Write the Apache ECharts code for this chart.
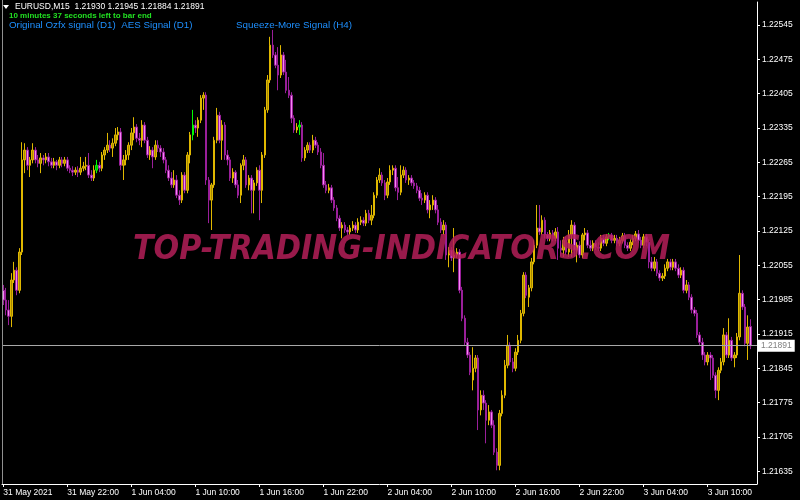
<!DOCTYPE html>
<html><head><meta charset="utf-8">
<script src="https://cdn.jsdelivr.net/npm/echarts@6/dist/echarts.min.js"></script>
<style>html,body{margin:0;padding:0;background:#000}#c{width:800px;height:500px}</style>
</head><body><div id="c"></div>
<script>
const symbolInfo = "EURUSD,M15  1.21930 1.21945 1.21884 1.21891";
const timerText = "10 minutes 37 seconds left to bar end";
const signalText1 = "Original Ozfx signal (D1)  AES Signal (D1)";
const signalText2 = "Squeeze-More Signal (H4)";
const watermarkText = "TOP-TRADING-INDICATORS.COM";
const timeTickLabels = ["31 May 2021","31 May 22:00","1 Jun 04:00","1 Jun 10:00","1 Jun 16:00","1 Jun 22:00","2 Jun 04:00","2 Jun 10:00","2 Jun 16:00","2 Jun 22:00","3 Jun 04:00","3 Jun 10:00"];
const priceTicks = [1.21635,1.21705,1.21775,1.21845,1.21915,1.21985,1.22055,1.22125,1.22195,1.22265,1.22335,1.22405,1.22475,1.22545];
const lastPrice = 1.21891;
const greenBars = [35,71,111,227];

const opens = [1.22004,1.21984,1.21964,1.21951,1.22025,1.22045,1.22004,1.22082,1.22270,1.22290,
1.22259,1.22270,1.22290,1.22270,1.22263,1.22274,1.22270,1.22276,1.22266,1.22259,
1.22266,1.22259,1.22270,1.22263,1.22270,1.22253,1.22249,1.22245,1.22249,1.22245,
1.22253,1.22257,1.22259,1.22239,1.22233,1.22249,1.22259,1.22253,1.22280,1.22290,
1.22300,1.22294,1.22304,1.22321,1.22327,1.22259,1.22270,1.22280,1.22300,1.22325,
1.22337,1.22314,1.22310,1.22341,1.22310,1.22280,1.22290,1.22276,1.22300,1.22294,
1.22286,1.22270,1.22249,1.22233,1.22219,1.22229,1.22198,1.22188,1.22239,1.22208,
1.22280,1.22321,1.22341,1.22335,1.22351,1.22396,1.22402,1.22229,1.22188,1.22219,
1.22310,1.22361,1.22310,1.22341,1.22280,1.22270,1.22233,1.22245,1.22219,1.22198,
1.22259,1.22270,1.22219,1.22233,1.22208,1.22223,1.22249,1.22208,1.22280,1.22372,
1.22433,1.22504,1.22484,1.22463,1.22443,1.22484,1.22449,1.22412,1.22402,1.22355,
1.22331,1.22337,1.22341,1.22274,1.22290,1.22300,1.22290,1.22310,1.22300,1.22286,
1.22259,1.22219,1.22208,1.22213,1.22188,1.22172,1.22151,1.22131,1.22137,1.22127,
1.22123,1.22131,1.22137,1.22127,1.22143,1.22147,1.22141,1.22161,1.22147,1.22157,
1.22198,1.22229,1.22239,1.22223,1.22198,1.22225,1.22249,1.22253,1.22213,1.22204,
1.22239,1.22249,1.22229,1.22233,1.22223,1.22217,1.22208,1.22192,1.22188,1.22198,
1.22168,1.22178,1.22188,1.22168,1.22143,1.22127,1.22137,1.22076,1.22086,1.22070,
1.22076,1.22082,1.22004,1.21947,1.21898,1.21872,1.21821,1.21845,1.21866,1.21760,
1.21790,1.21774,1.21739,1.21756,1.21729,1.21674,1.21647,1.21753,1.21790,1.21851,
1.21892,1.21858,1.21845,1.21878,1.21902,1.21957,1.22035,1.21990,1.22009,1.22062,
1.22096,1.22131,1.22123,1.22147,1.22117,1.22110,1.22121,1.22110,1.22123,1.22090,
1.22086,1.22106,1.22082,1.22117,1.22137,1.22086,1.22096,1.22076,1.22117,1.22121,
1.22096,1.22090,1.22100,1.22092,1.22090,1.22110,1.22100,1.22113,1.22117,1.22106,
1.22110,1.22100,1.22106,1.22115,1.22096,1.22090,1.22102,1.22110,1.22119,1.22106,
1.22096,1.22113,1.22102,1.22062,1.22049,1.22062,1.22039,1.22029,1.22033,1.22049,
1.22062,1.22051,1.22062,1.22049,1.22035,1.22045,1.22004,1.22015,1.21990,1.21964,
1.21957,1.21913,1.21898,1.21872,1.21858,1.21872,1.21866,1.21831,1.21800,1.21841,
1.21858,1.21913,1.21872,1.21902,1.21866,1.21872,1.21909,1.21998,1.21970,1.21896,
1.21930];

const closes = [1.21984,1.21964,1.21951,1.22025,1.22045,1.22004,1.22082,1.22270,1.22290,1.22259,
1.22270,1.22290,1.22270,1.22263,1.22274,1.22270,1.22276,1.22266,1.22259,1.22266,
1.22259,1.22270,1.22263,1.22270,1.22253,1.22249,1.22245,1.22249,1.22245,1.22253,
1.22257,1.22259,1.22239,1.22233,1.22249,1.22259,1.22253,1.22280,1.22290,1.22300,
1.22294,1.22304,1.22321,1.22327,1.22259,1.22270,1.22280,1.22300,1.22325,1.22337,
1.22314,1.22310,1.22341,1.22310,1.22280,1.22290,1.22276,1.22300,1.22294,1.22286,
1.22270,1.22249,1.22233,1.22219,1.22229,1.22198,1.22188,1.22239,1.22208,1.22280,
1.22321,1.22341,1.22335,1.22351,1.22396,1.22402,1.22229,1.22188,1.22219,1.22310,
1.22361,1.22310,1.22341,1.22280,1.22270,1.22233,1.22245,1.22219,1.22198,1.22259,
1.22270,1.22219,1.22233,1.22208,1.22223,1.22249,1.22208,1.22280,1.22372,1.22433,
1.22504,1.22484,1.22463,1.22443,1.22484,1.22449,1.22412,1.22402,1.22355,1.22331,
1.22337,1.22341,1.22274,1.22290,1.22300,1.22290,1.22310,1.22300,1.22286,1.22259,
1.22219,1.22208,1.22213,1.22188,1.22172,1.22151,1.22131,1.22137,1.22127,1.22123,
1.22131,1.22137,1.22127,1.22143,1.22147,1.22141,1.22161,1.22147,1.22157,1.22198,
1.22229,1.22239,1.22223,1.22198,1.22225,1.22249,1.22253,1.22213,1.22204,1.22239,
1.22249,1.22229,1.22233,1.22223,1.22217,1.22208,1.22192,1.22188,1.22198,1.22168,
1.22178,1.22188,1.22168,1.22143,1.22127,1.22137,1.22076,1.22086,1.22070,1.22076,
1.22082,1.22004,1.21947,1.21898,1.21872,1.21837,1.21845,1.21866,1.21760,1.21790,
1.21774,1.21739,1.21756,1.21729,1.21674,1.21647,1.21753,1.21790,1.21851,1.21892,
1.21858,1.21845,1.21878,1.21902,1.21957,1.22035,1.21994,1.22009,1.22062,1.22096,
1.22131,1.22123,1.22147,1.22117,1.22110,1.22121,1.22110,1.22123,1.22090,1.22086,
1.22106,1.22082,1.22117,1.22137,1.22086,1.22096,1.22076,1.22117,1.22121,1.22096,
1.22090,1.22100,1.22092,1.22090,1.22110,1.22100,1.22113,1.22117,1.22106,1.22110,
1.22100,1.22106,1.22115,1.22096,1.22090,1.22102,1.22110,1.22119,1.22106,1.22096,
1.22113,1.22102,1.22062,1.22049,1.22062,1.22039,1.22029,1.22033,1.22049,1.22062,
1.22051,1.22062,1.22049,1.22035,1.22045,1.22004,1.22015,1.21990,1.21964,1.21957,
1.21913,1.21898,1.21872,1.21858,1.21872,1.21866,1.21831,1.21800,1.21841,1.21858,
1.21913,1.21872,1.21902,1.21866,1.21872,1.21909,1.21998,1.21970,1.21896,1.21929,
1.21891];

const lows = [1.21974,1.21953,1.21933,1.21929,1.22019,1.21994,1.21998,1.22076,1.22243,1.22249,
1.22235,1.22263,1.22263,1.22255,1.22243,1.22259,1.22263,1.22257,1.22253,1.22253,
1.22249,1.22253,1.22255,1.22257,1.22247,1.22243,1.22237,1.22239,1.22235,1.22239,
1.22247,1.22249,1.22233,1.22227,1.22227,1.22243,1.22245,1.22247,1.22270,1.22284,
1.22286,1.22276,1.22298,1.22310,1.22249,1.22229,1.22259,1.22270,1.22290,1.22310,
1.22306,1.22300,1.22296,1.22304,1.22274,1.22270,1.22253,1.22270,1.22286,1.22276,
1.22263,1.22243,1.22227,1.22213,1.22213,1.22192,1.22178,1.22182,1.22202,1.22202,
1.22263,1.22310,1.22325,1.22317,1.22345,1.22372,1.22219,1.22141,1.22127,1.22213,
1.22304,1.22304,1.22270,1.22270,1.22259,1.22227,1.22223,1.22213,1.22192,1.22182,
1.22249,1.22213,1.22208,1.22161,1.22161,1.22217,1.22147,1.22182,1.22274,1.22366,
1.22427,1.22478,1.22457,1.22412,1.22437,1.22443,1.22406,1.22396,1.22345,1.22325,
1.22325,1.22321,1.22266,1.22268,1.22284,1.22284,1.22284,1.22294,1.22280,1.22253,
1.22213,1.22202,1.22202,1.22182,1.22166,1.22145,1.22125,1.22110,1.22121,1.22117,
1.22117,1.22125,1.22121,1.22121,1.22137,1.22135,1.22135,1.22141,1.22137,1.22151,
1.22192,1.22223,1.22217,1.22188,1.22192,1.22219,1.22239,1.22206,1.22188,1.22198,
1.22233,1.22223,1.22219,1.22217,1.22211,1.22202,1.22186,1.22178,1.22182,1.22161,
1.22151,1.22168,1.22161,1.22137,1.22121,1.22117,1.22066,1.22051,1.22064,1.22041,
1.22070,1.21998,1.21941,1.21892,1.21866,1.21831,1.21800,1.21837,1.21719,1.21749,
1.21760,1.21692,1.21729,1.21723,1.21668,1.21637,1.21637,1.21747,1.21784,1.21845,
1.21851,1.21837,1.21839,1.21872,1.21896,1.21951,1.21988,1.21970,1.22002,1.22057,
1.22090,1.22117,1.22117,1.22110,1.22104,1.22104,1.22104,1.22104,1.22066,1.22074,
1.22072,1.22076,1.22072,1.22072,1.22072,1.22061,1.22070,1.22070,1.22106,1.22090,
1.22084,1.22084,1.22086,1.22084,1.22084,1.22094,1.22094,1.22106,1.22100,1.22100,
1.22094,1.22094,1.22100,1.22090,1.22084,1.22084,1.22096,1.22104,1.22100,1.22090,
1.22090,1.22094,1.22049,1.22043,1.22043,1.22033,1.22023,1.22023,1.22027,1.22043,
1.22045,1.22045,1.22043,1.22029,1.22029,1.21998,1.21998,1.21984,1.21957,1.21951,
1.21907,1.21892,1.21862,1.21851,1.21851,1.21821,1.21825,1.21784,1.21780,1.21835,
1.21851,1.21866,1.21866,1.21860,1.21847,1.21866,1.21902,1.21964,1.21890,1.21862,
1.21884];

const highs = [1.22015,1.22009,1.21984,1.22039,1.22062,1.22051,1.22090,1.22306,1.22304,1.22296,
1.22276,1.22304,1.22296,1.22280,1.22284,1.22280,1.22284,1.22284,1.22274,1.22274,
1.22270,1.22276,1.22276,1.22276,1.22276,1.22259,1.22257,1.22255,1.22257,1.22276,
1.22266,1.22276,1.22284,1.22249,1.22259,1.22270,1.22266,1.22286,1.22296,1.22325,
1.22310,1.22314,1.22335,1.22337,1.22335,1.22280,1.22290,1.22306,1.22335,1.22357,
1.22343,1.22325,1.22351,1.22347,1.22317,1.22298,1.22296,1.22310,1.22310,1.22300,
1.22294,1.22276,1.22259,1.22245,1.22249,1.22239,1.22208,1.22245,1.22245,1.22286,
1.22327,1.22372,1.22351,1.22357,1.22402,1.22408,1.22408,1.22235,1.22223,1.22317,
1.22376,1.22368,1.22351,1.22347,1.22290,1.22276,1.22253,1.22249,1.22229,1.22263,
1.22280,1.22276,1.22239,1.22239,1.22229,1.22255,1.22259,1.22286,1.22378,1.22443,
1.22521,1.22535,1.22490,1.22500,1.22504,1.22490,1.22474,1.22439,1.22408,1.22361,
1.22345,1.22351,1.22347,1.22296,1.22306,1.22306,1.22321,1.22317,1.22306,1.22294,
1.22284,1.22227,1.22221,1.22219,1.22194,1.22178,1.22157,1.22143,1.22143,1.22133,
1.22137,1.22145,1.22143,1.22151,1.22155,1.22153,1.22168,1.22168,1.22178,1.22204,
1.22235,1.22253,1.22245,1.22229,1.22233,1.22259,1.22259,1.22259,1.22235,1.22259,
1.22257,1.22255,1.22239,1.22239,1.22229,1.22223,1.22215,1.22202,1.22204,1.22204,
1.22188,1.22198,1.22194,1.22178,1.22151,1.22147,1.22143,1.22092,1.22092,1.22131,
1.22090,1.22088,1.22011,1.21953,1.21907,1.21878,1.21888,1.21872,1.21872,1.21800,
1.21800,1.21780,1.21770,1.21760,1.21739,1.21682,1.21760,1.21800,1.21862,1.21913,
1.21898,1.21866,1.21886,1.21913,1.21964,1.22041,1.22041,1.22015,1.22070,1.22106,
1.22178,1.22178,1.22157,1.22153,1.22123,1.22127,1.22127,1.22131,1.22133,1.22106,
1.22113,1.22113,1.22127,1.22147,1.22143,1.22102,1.22104,1.22121,1.22131,1.22127,
1.22106,1.22106,1.22106,1.22102,1.22117,1.22117,1.22119,1.22121,1.22121,1.22117,
1.22117,1.22113,1.22121,1.22121,1.22102,1.22108,1.22117,1.22125,1.22127,1.22113,
1.22119,1.22119,1.22108,1.22072,1.22072,1.22068,1.22045,1.22039,1.22057,1.22068,
1.22068,1.22068,1.22068,1.22057,1.22051,1.22051,1.22025,1.22021,1.21996,1.21970,
1.21964,1.21919,1.21907,1.21878,1.21878,1.21878,1.21872,1.21837,1.21847,1.21866,
1.21927,1.21919,1.21947,1.21909,1.21878,1.21917,1.22076,1.22004,1.21976,1.21953,
1.21945];

const EMPTY_SLOTS = 2;
const categories = [];
for (let i = 0; i < opens.length + EMPTY_SLOTS; i++) categories.push(String(i));

const candleData = opens.map((o, i) => {
  const item = { value: [o, closes[i], lows[i], highs[i]] };
  if (greenBars.indexOf(i) >= 0) {
    item.itemStyle = { color: '#00b000', color0: '#00b000', borderColor: '#00ff00', borderColor0: '#00ff00' };
  }
  return item;
});

const chart = echarts.init(document.getElementById('c'), null, { renderer: 'canvas' });

const wmFont = 'italic bold 34px "DejaVu Sans"';
const mctx = document.createElement('canvas').getContext('2d');
mctx.font = wmFont;
const wmWidth = mctx.measureText(watermarkText).width || 600;
const wmScaleX = 537 / wmWidth;

const labelFont = '"Liberation Sans", Arial, sans-serif';

chart.setOption({
  backgroundColor: '#000000',
  animation: false,
  grid: { left: 2, right: 43, top: 2, bottom: 16, containLabel: false },
  xAxis: {
    type: 'category',
    data: categories,
    boundaryGap: true,
    axisLine: { show: true, lineStyle: { color: '#ffffff', width: 1 } },
    axisTick: { show: true, alignWithLabel: true, interval: (i) => i % 24 === 0, length: 3, lineStyle: { color: '#ffffff' } },
    axisLabel: {
      interval: (i) => i % 24 === 0,
      formatter: (v, i) => timeTickLabels[Math.round(i / 24)] || '',
      align: 'left', color: '#ffffff', fontSize: 8.5, fontFamily: labelFont, margin: 4
    },
    splitLine: { show: false }
  },
  yAxis: {
    type: 'value', position: 'right',
    min: 1.21609, max: 1.22592,
    splitLine: { show: false },
    axisLine: { show: true, lineStyle: { color: '#ffffff', width: 1 } },
    axisTick: { show: true, customValues: priceTicks, length: 3, lineStyle: { color: '#ffffff' } },
    axisLabel: {
      customValues: priceTicks,
      formatter: (v) => v.toFixed(5),
      color: '#ffffff', fontSize: 8.5, fontFamily: labelFont, margin: 5, align: 'left'
    }
  },
  series: [{
    type: 'candlestick',
    data: candleData,
    barWidth: 2,
    itemStyle: {
      color: '#a88a00', color0: '#f488f4',
      borderColor: '#e0b800', borderColor0: '#9a1f9a', borderWidth: 1
    }
  }, {
    type: 'line',
    data: [],
    silent: true,
    markLine: {
      silent: true, symbol: ['none', 'none'], precision: 5,
      lineStyle: { color: '#a8a8a8', type: 'solid', width: 1 },
      label: {
        show: true, position: 'end', distance: 1,
        formatter: () => lastPrice.toFixed(5),
        backgroundColor: '#ffffff', color: '#808080',
        fontSize: 8.5, fontFamily: labelFont, padding: [2, 3, 1, 3]
      },
      data: [{ yAxis: lastPrice }]
    }
  }],
  graphic: [
    { type: 'line', shape: { x1: 2.5, y1: 0, x2: 2.5, y2: 484 }, style: { stroke: '#909090', lineWidth: 1 }, z: 50 },
    { type: 'polygon', shape: { points: [[3, 5], [9, 5], [6, 9]] }, style: { fill: '#ffffff' }, z: 60 },
    { type: 'text', x: 15, y: 7, style: { text: symbolInfo, fill: '#ffffff', font: '8.5px ' + labelFont, textVerticalAlign: 'middle' }, z: 60 },
    { type: 'text', x: 9, y: 16, style: { text: timerText, fill: '#22e022', font: 'bold 8px ' + labelFont, textVerticalAlign: 'middle' }, z: 60 },
    { type: 'text', x: 9, y: 25, style: { text: signalText1, fill: '#1e90ff', font: '9.8px ' + labelFont, textVerticalAlign: 'middle' }, z: 60 },
    { type: 'text', x: 236, y: 25, style: { text: signalText2, fill: '#1e90ff', font: '9.8px ' + labelFont, textVerticalAlign: 'middle' }, z: 60 },
    { type: 'text', x: 133, y: 250, scaleX: wmScaleX, scaleY: 1,
      style: { text: watermarkText, fill: 'rgba(180,30,88,0.85)', font: wmFont, textVerticalAlign: 'middle', textAlign: 'left' }, z: 100 }
  ]
});
</script>
</body></html>
